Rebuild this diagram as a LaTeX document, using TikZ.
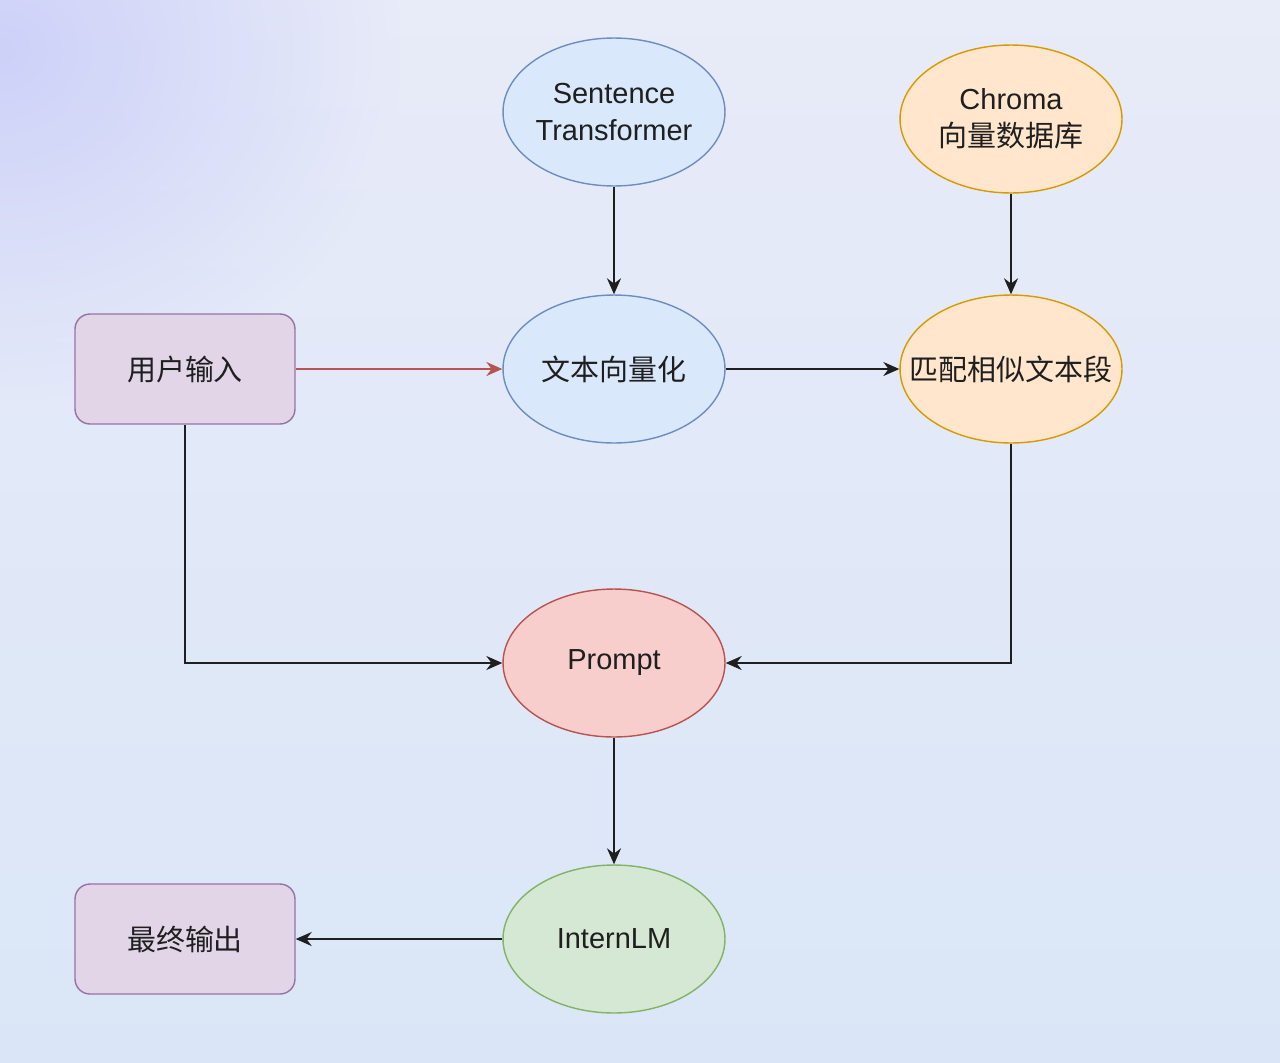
\documentclass[tikz,border=0pt]{standalone}
\usepackage{fontspec}
\setmainfont{Liberation Sans}
\newfontfamily\cjk{Noto Sans CJK SC}
\usetikzlibrary{arrows.meta,shapes.geometric,fadings}

\definecolor{bgtop}{HTML}{E8EBF8}
\definecolor{bgmid}{HTML}{F2F3F8}
\definecolor{bgbot}{HTML}{DAE6F7}
\definecolor{lavender}{HTML}{CDD1F8}
\definecolor{bluefill}{HTML}{DAE8FC}
\definecolor{bluedraw}{HTML}{6C8EBF}
\definecolor{orangefill}{HTML}{FFE6CC}
\definecolor{orangedraw}{HTML}{D79B00}
\definecolor{redfill}{HTML}{F8CECC}
\definecolor{reddraw}{HTML}{B85450}
\definecolor{greenfill}{HTML}{D5E8D4}
\definecolor{greendraw}{HTML}{82B366}
\definecolor{purplefill}{HTML}{E1D5E7}
\definecolor{purpledraw}{HTML}{9673A6}

\tikzfading[name=glow, inner color=transparent!0, outer color=transparent!100]

\begin{document}
\begin{tikzpicture}[x=0.02cm, y=-0.02cm]
        \tikzset{
            blob/.style={ellipse, draw, line width=0.8pt, inner sep=0pt,
                minimum width=4.44cm, minimum height=2.96cm, align=center,
                text=black!88, font=\fontsize{16.5}{21}\selectfont},
            box/.style={rectangle, rounded corners=0.3cm, draw=purpledraw, fill=purplefill,
                line width=0.8pt, minimum width=4.4cm, minimum height=2.2cm,
                text=black!88, font=\fontsize{16.5}{21}\selectfont\cjk},
            flow/.style={-{Stealth[length=3.2mm, width=2.8mm]}, line width=1.1pt, black!88}
        }
        % background
        \useasboundingbox (0,0) rectangle (1280,1062);
        \begin{scope}
            \clip (0,0) rectangle (1280,1062);
            \shade[top color=bgtop, middle color=bgmid, bottom color=bgbot] (0,0) rectangle (1280,1062);
            \fill[lavender, path fading=glow] (-400,-300) rectangle (400,400);
        \end{scope}

        % nodes
        \node[blob, draw=bluedraw, fill=bluefill] (st) at (614,112) {Sentence\\Transformer};
        \node[blob, draw=orangedraw, fill=orangefill] (chroma) at (1011,119) {Chroma\\{\cjk 向量数据库}};
        \node[box] (user) at (185,369) {用户输入};
        \node[blob, draw=bluedraw, fill=bluefill, font=\fontsize{16.5}{21}\selectfont\cjk] (vec) at (614,369) {文本向量化};
        \node[blob, draw=orangedraw, fill=orangefill, font=\fontsize{16.5}{21}\selectfont\cjk] (match) at (1011,369) {\makebox[0pt]{匹配相似文本段}};
        \node[blob, draw=reddraw, fill=redfill] (prompt) at (614,663) {Prompt};
        \node[blob, draw=greendraw, fill=greenfill] (llm) at (614,939) {InternLM};
        \node[box] (out) at (185,939) {最终输出};

        % connectors
        \draw[flow] (st) -- (vec);
        \draw[flow] (chroma) -- (match);
        \draw[flow, reddraw] (user) -- (vec);
        \draw[flow] (vec) -- (match);
        \draw[flow] (user) |- (prompt);
        \draw[flow] (match) |- (prompt);
        \draw[flow] (prompt) -- (llm);
        \draw[flow] (llm) -- (out);
\end{tikzpicture}
\end{document}
